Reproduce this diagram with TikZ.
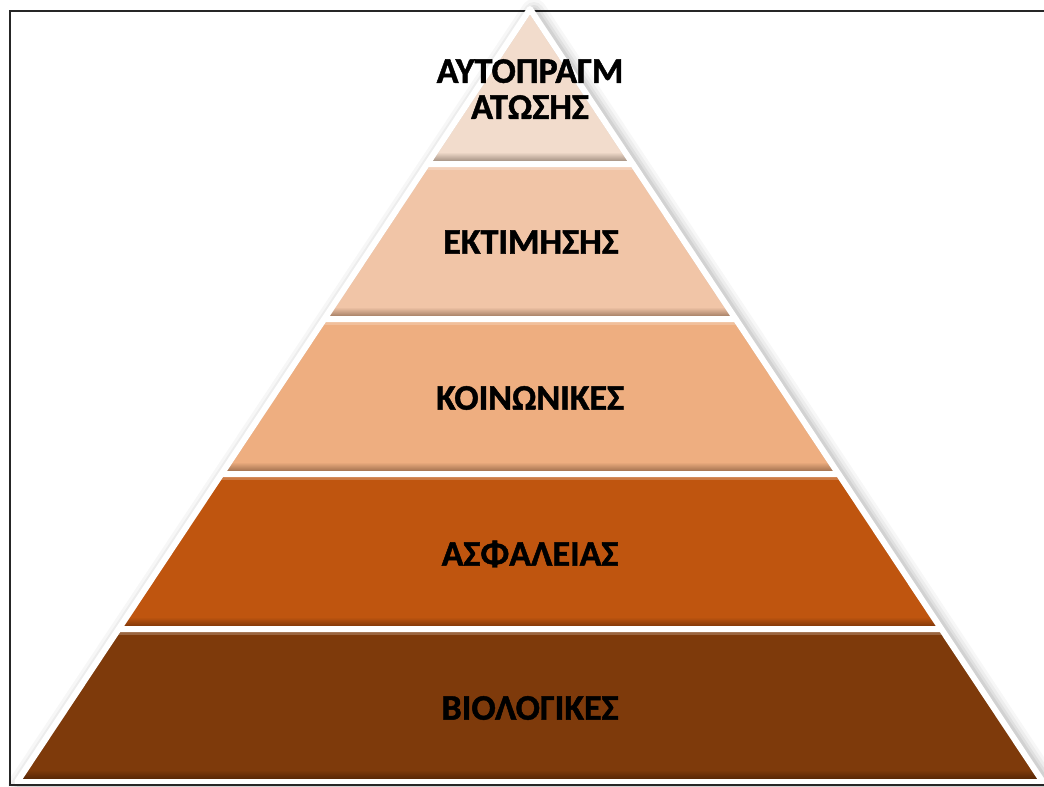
\documentclass[tikz,border=0pt]{standalone}
\usepackage{fontspec}
\setmainfont{Carlito}
\newfontfamily\labelfont{Carlito}[BoldFeatures={FakeBold=1.3}]
\usetikzlibrary{calc}

% band colours and their shadow tones
\definecolor{c1}{HTML}{F2DCCC}
\definecolor{c1d}{HTML}{8C7A6C}
\definecolor{c2}{HTML}{F1C5A7}
\definecolor{c2d}{HTML}{8E6A52}
\definecolor{c3}{HTML}{EEAE80}
\definecolor{c3d}{HTML}{8A5E40}
\definecolor{c4}{HTML}{BF550F}
\definecolor{c4d}{HTML}{6E2E06}
\definecolor{c5}{HTML}{7E3A0B}
\definecolor{c5d}{HTML}{4A2004}

% apex of the pyramid and half-width growth per unit of height
\def\ax{530}
\def\ay{9}
\def\kslope{0.6635}

\tikzset{
  frameline/.style={line width=2pt, black!85},
  layergap/.style={white, line width=6pt, line join=round},
  label/.style={font=\labelfont\bfseries\fontsize{36}{36}\selectfont, text=black, align=center, inner sep=0pt},
}

% one trapezoidal band: #1 top y, #2 bottom y, #3 fill colour, #4 shadow colour
\newcommand\pyrband[4]{%
  \pgfmathsetmacro\tl{\ax-\kslope*(#1-\ay)}%
  \pgfmathsetmacro\tr{\ax+\kslope*(#1-\ay)}%
  \pgfmathsetmacro\bl{\ax-\kslope*(#2-\ay)}%
  \pgfmathsetmacro\br{\ax+\kslope*(#2-\ay)}%
  \fill[#3] (\tl,#1) -- (\tr,#1) -- (\br,#2) -- (\bl,#2) -- cycle;
  \begin{scope}
    \clip (\tl,#1) -- (\tr,#1) -- (\br,#2) -- (\bl,#2) -- cycle;
    % soft bevel: dark rim along the base, light rim along the top
    \shade[top color=#3, bottom color=#4] (\bl-10,#2-12) rectangle (\br+10,#2);
    \fill[white, opacity=0.22] (\bl-10,#1) rectangle (\br+10,#1+6);
    \draw[#4, opacity=0.25, line width=6pt] (\tl,#1) -- (\bl,#2);
    \draw[#4, opacity=0.25, line width=6pt] (\tr,#1) -- (\br,#2);
  \end{scope}
  \draw[layergap] (\tl,#1) -- (\tr,#1) -- (\br,#2) -- (\bl,#2) -- cycle;
}

\begin{document}
\begin{tikzpicture}[x=1pt, y=-1pt]
  \useasboundingbox (0,0) rectangle (1044,787);
  \clip (0,0) rectangle (1044,787);
  \fill[white] (0,0) rectangle (1044,787);

  % slide frame: top and left edges
  \draw[frameline] (1050,11) -- (10,11) -- (10,786);

  % soft drop shadow around the pyramid outline
  \pgfmathsetmacro\baseL{\ax-\kslope*(782-\ay)}
  \pgfmathsetmacro\baseR{\ax+\kslope*(782-\ay)}
  \foreach \w/\o in {26/0.03, 20/0.04, 14/0.05, 9/0.06} {
    \draw[black, opacity=\o, line width=\w pt, line join=round]
      (\ax+4,\ay+3) -- (\baseR+4,785) -- (\baseL+4,785) -- cycle;
  }

  % bands from the top down
  \pyrband{9}{164}{c1}{c1d}
  \pyrband{164}{319}{c2}{c2d}
  \pyrband{319}{474}{c3}{c3d}
  \pyrband{474}{629}{c4}{c4d}
  \pyrband{629}{782}{c5}{c5d}

  % slide frame: bottom edge
  \draw[frameline] (10,785) -- (1050,785);

  \node[label] (self) at (530,89) {ΑΥΤΟΠΡΑΓΜ\\ΑΤΩΣΗΣ};
  \node[label] (esteem) at (531,242) {ΕΚΤΙΜΗΣΗΣ};
  \node[label] (social) at (530,398) {ΚΟΙΝΩΝΙΚΕΣ};
  \node[label] (safety) at (530,554) {ΑΣΦΑΛΕΙΑΣ};
  \node[label] (bio) at (530,708) {ΒΙΟΛΟΓΙΚΕΣ};
\end{tikzpicture}
\end{document}
